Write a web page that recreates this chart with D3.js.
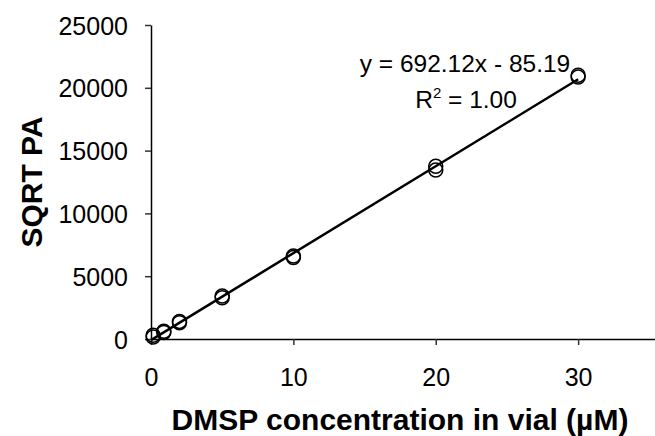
<!DOCTYPE html>
<html>
<head>
<meta charset="utf-8">
<script src="https://cdn.jsdelivr.net/npm/d3@7"></script>
<style>
  body { margin: 0; background: #fff; }
  svg text { font-family: "Liberation Sans", Arial, sans-serif; fill: #000; }
</style>
</head>
<body>
<svg id="chart" width="655" height="436"></svg>
<script>
// calibration points: concentration (uM) vs sqrt peak area, duplicates per level
const conc = [0.15, 0.15, 0.9, 0.9, 2, 2, 5, 5, 10, 10, 20, 20, 30, 30];
const sqrtPA = [150, 300, 520, 620, 1300, 1400, 3280, 3420, 6480, 6600, 13450, 13750, 20850, 21000];
const slope = 692.12;
const intercept = -85.19;
const xTicks = [0, 10, 20, 30];
const yTicks = [0, 5000, 10000, 15000, 20000, 25000];

const svg = d3.select("#chart");
const x = d3.scaleLinear().domain([0, 35.4]).range([151, 655]);
const y = d3.scaleLinear().domain([0, 25000]).range([339, 25]);

// axes
const xAxis = svg.append("g").attr("transform", "translate(0,339)")
  .call(d3.axisBottom(x).tickValues(xTicks).tickFormat(d3.format("d"))
    .tickSize(6).tickSizeOuter(0).tickPadding(23));
const yAxis = svg.append("g").attr("transform", "translate(151,0)")
  .call(d3.axisLeft(y).tickValues(yTicks).tickFormat(d3.format("d"))
    .tickSize(6).tickSizeOuter(0).tickPadding(17));
[xAxis, yAxis].forEach(g => {
  g.select(".domain").attr("stroke", "#000").attr("stroke-width", 1.5);
  g.selectAll(".tick line").attr("stroke", "#333").attr("stroke-width", 1.5);
  g.selectAll(".tick text").style("font-size", "25px").attr("fill", "#000");
});
yAxis.selectAll(".tick text").attr("dy", "0.36em");

// regression line
svg.append("line")
  .attr("x1", x(0)).attr("y1", y(intercept))
  .attr("x2", x(30)).attr("y2", y(slope * 30 + intercept))
  .attr("stroke", "#000").attr("stroke-width", 2.5);

// points
svg.append("g").selectAll("circle")
  .data(conc.map((c, i) => [c, sqrtPA[i]]))
  .join("circle")
  .attr("cx", d => x(d[0])).attr("cy", d => y(d[1]))
  .attr("r", 7).attr("fill", "none").attr("stroke", "#000").attr("stroke-width", 1.5);

// equation
svg.append("text").attr("x", 465).attr("y", 72).attr("text-anchor", "middle")
  .style("font-size", "24.5px").text("y = 692.12x - 85.19");
const r2 = svg.append("text").attr("x", 466).attr("y", 108).attr("text-anchor", "middle")
  .style("font-size", "24.5px");
r2.append("tspan").text("R");
r2.append("tspan").style("font-size", "15px").attr("dy", -10).text("2");
r2.append("tspan").attr("dy", 10).text(" = 1.00");

// axis titles
svg.append("text").attr("x", 400).attr("y", 430).attr("text-anchor", "middle")
  .style("font-size", "30px").style("font-weight", "bold").text("DMSP concentration in vial (µM)");
svg.append("text").attr("transform", "translate(42,182) rotate(-90)").attr("text-anchor", "middle")
  .style("font-size", "30px").style("font-weight", "bold").text("SQRT PA");
</script>
</body>
</html>
